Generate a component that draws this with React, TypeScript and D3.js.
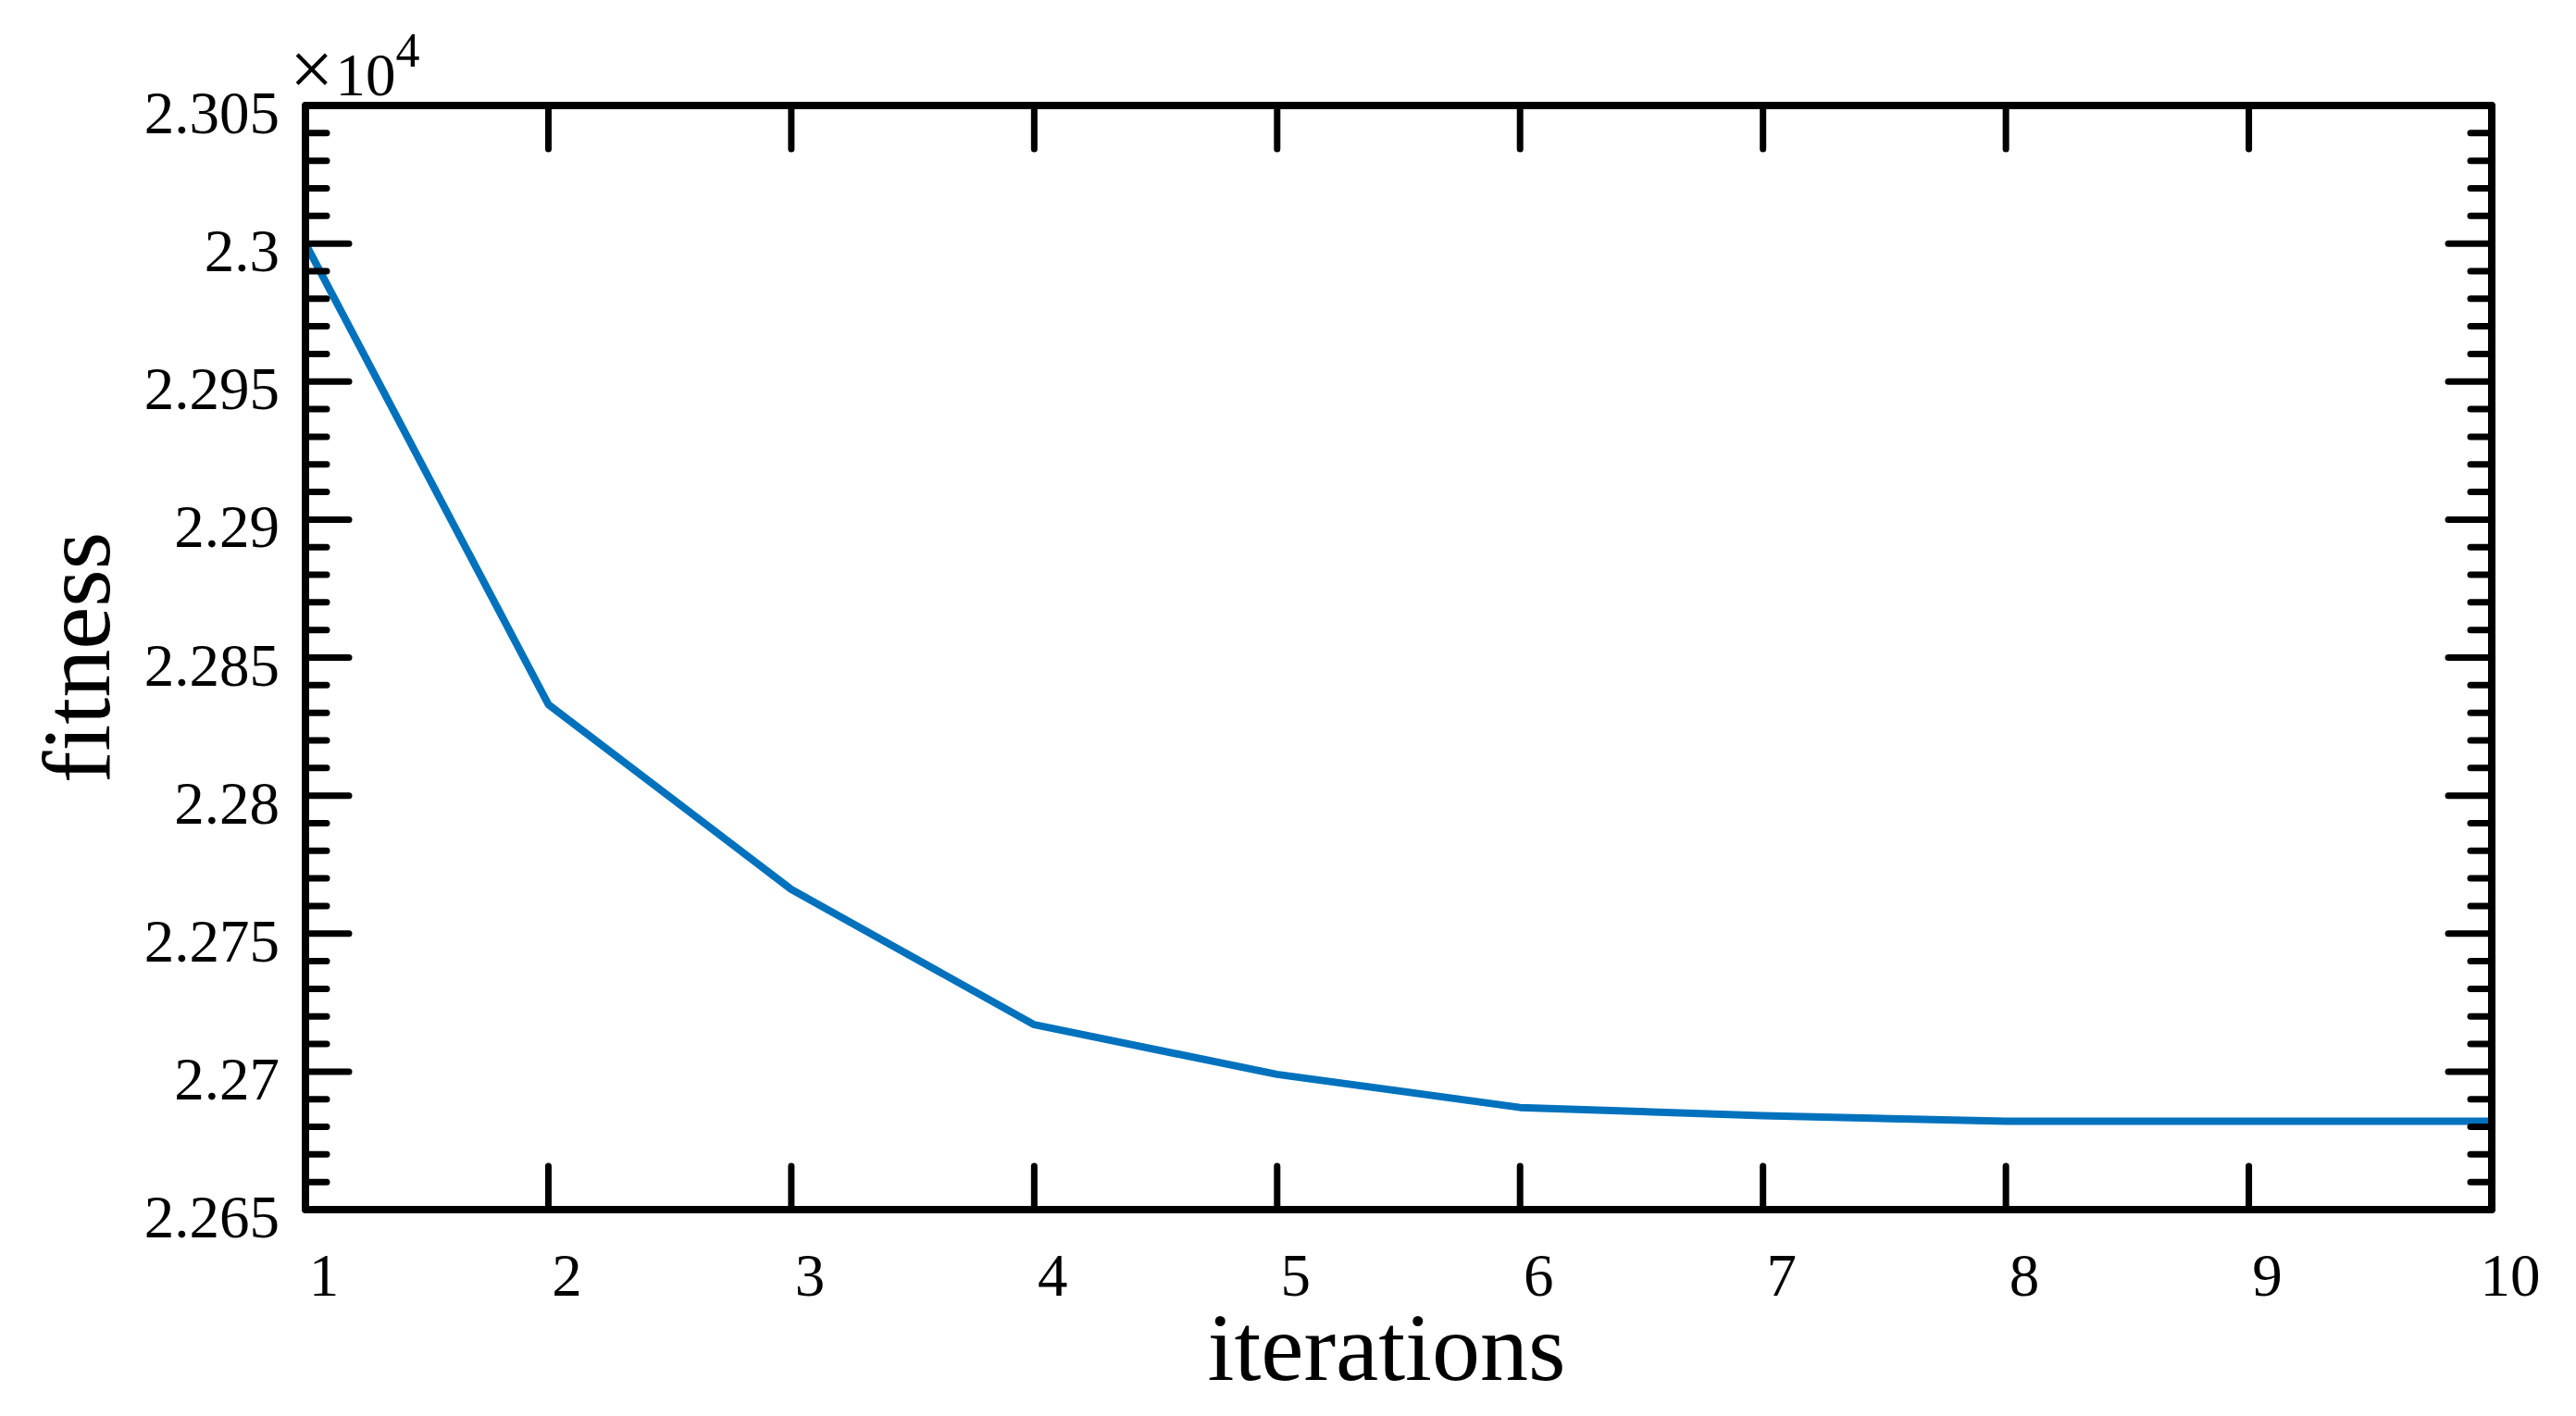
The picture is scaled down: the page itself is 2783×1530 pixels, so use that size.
import React from "react";
import * as d3 from "d3";

const iterations = [1, 2, 3, 4, 5, 6, 7, 8, 9, 10];
const fitness = [23000, 22833, 22766, 22717, 22699, 22687, 22684, 22682, 22682, 22682];
const yTickValues = [22650, 22700, 22750, 22800, 22850, 22900, 22950, 23000, 23050];
const yTickLabels = ["2.265", "2.27", "2.275", "2.28", "2.285", "2.29", "2.295", "2.3", "2.305"];
const xTickLabels = ["1", "2", "3", "4", "5", "6", "7", "8", "9", "10"];

const W = 2783;
const H = 1530;
const L = 330;
const R = 2692;
const T = 114;
const B = 1307;
const FONT = "'Liberation Serif', 'Times New Roman', serif";

export default function App() {
  const x = d3.scaleLinear().domain([1, 10]).range([L, R]);
  const y = d3.scaleLinear().domain([22650, 23050]).range([B, T]);
  const minor = d3.range(22650, 23050 + 1, 10).filter((v) => v % 50 !== 0);
  const line = d3
    .line<number>()
    .x((_, i) => x(iterations[i]))
    .y((d) => y(d));
  const majorLen = 47;
  const minorLen = 23;
  const tickW = 7;
  return (
    <svg
      width={W}
      height={H}
      style={{ position: "absolute", left: 0, top: 0, display: "block", background: "#fff" }}
    >
      <rect x={0} y={0} width={W} height={H} fill="#fff" />
      {/* data line */}
      <path d={line(fitness) || ""} fill="none" stroke="#0072BD" strokeWidth={8} strokeLinejoin="round" />
      {/* ticks */}
      <g stroke="#000" strokeWidth={tickW} strokeLinecap="round">
        {yTickValues.map((v) => (
          <g key={"ym" + v}>
            <line x1={L} x2={L + majorLen} y1={y(v)} y2={y(v)} />
            <line x1={R} x2={R - majorLen} y1={y(v)} y2={y(v)} />
          </g>
        ))}
        {minor.map((v) => (
          <g key={"yn" + v}>
            <line x1={L} x2={L + minorLen} y1={y(v)} y2={y(v)} />
            <line x1={R} x2={R - minorLen} y1={y(v)} y2={y(v)} />
          </g>
        ))}
        {iterations.map((v) => (
          <g key={"xt" + v}>
            <line x1={x(v)} x2={x(v)} y1={B} y2={B - majorLen} />
            <line x1={x(v)} x2={x(v)} y1={T} y2={T + majorLen} />
          </g>
        ))}
      </g>
      {/* axes box */}
      <rect x={L} y={T} width={R - L} height={B - T} fill="none" stroke="#000" strokeWidth={8} strokeLinejoin="round" />
      {/* y tick labels */}
      <g fontFamily={FONT} fontSize={65} fill="#000" textAnchor="end">
        {yTickValues.map((v, i) => (
          <text key={"yl" + v} x={302} y={y(v) + 30}>
            {yTickLabels[i]}
          </text>
        ))}
      </g>
      {/* x tick labels */}
      <g fontFamily={FONT} fontSize={65} fill="#000" textAnchor="middle">
        {iterations.map((v, i) => (
          <text key={"xl" + v} x={x(v) + 20} y={1400}>
            {xTickLabels[i]}
          </text>
        ))}
      </g>
      {/* exponent */}
      <text x={313} y={103} fontFamily={FONT} fontSize={65} fill="#000">
        <tspan fontSize={84}>×</tspan>
        <tspan dx={2}>10</tspan>
        <tspan dy={-31} fontSize={52}>4</tspan>
      </text>
      {/* axis labels */}
      <text x={1498} y={1491} fontFamily={FONT} fontSize={104} textAnchor="middle" fill="#000">
        iterations
      </text>
      <text
        transform={`translate(118, ${(T + B) / 2}) rotate(-90)`}
        fontFamily={FONT}
        fontSize={104}
        textAnchor="middle"
        fill="#000"
      >
        fitness
      </text>
    </svg>
  );
}
